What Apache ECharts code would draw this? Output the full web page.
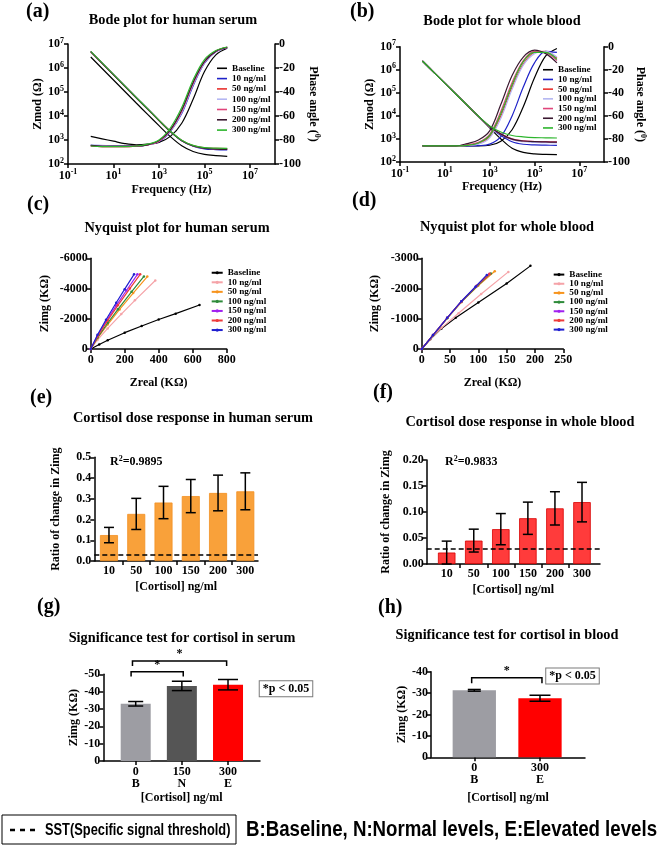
<!DOCTYPE html>
<html><head><meta charset="utf-8">
<script src="https://cdn.jsdelivr.net/npm/echarts@6/dist/echarts.min.js"></script>
<style>html,body{margin:0;padding:0;background:#fff}#c{width:660px;height:846px}</style>
</head><body><div id="c"></div>
<script>
// ---------------- DATA ----------------
const concNames = ['Baseline','10 ng/ml','50 ng/ml','100 ng/ml','150 ng/ml','200 ng/ml','300 ng/ml'];
const freqHz = [1,3.162,10,31.62,100,316.2,1000,3162,10000,31623,100000,316228,1000000];
// Bode (a) human serum: |Z| in ohm, phase in degrees
const serumZmod = [
  [2880000,955000,316000,105000,34700,11700,3980,1380,575,331,251,224,209],
  [4900000,1620000,537000,178000,58900,20000,6610,2250,930,550,430,400,390],
  [4800000,1590000,530000,176000,58000,19700,6550,2290,960,590,470,445,440],
  [4850000,1600000,535000,177000,58500,19900,6600,2280,950,575,455,428,420],
  [4750000,1570000,525000,174000,57500,19600,6500,2260,945,570,452,425,415],
  [4700000,1560000,520000,172000,57000,19400,6450,2250,940,565,448,420,410],
  [4950000,1640000,540000,179000,59500,20200,6700,2320,975,595,480,455,450]
];
const serumPhase = [
  [-77,-79,-81,-83,-84,-83.5,-82,-77,-66,-46,-23,-9,-3.5],
  [-84.5,-85,-85,-85,-85,-84,-81.5,-73,-58,-35,-16,-6.5,-3],
  [-85,-85.5,-85.5,-85.5,-85,-84,-81,-72,-56,-33,-15,-6,-2.8],
  [-84,-84.5,-85,-85,-85,-84,-81,-72.5,-57,-34,-15.5,-6,-2.8],
  [-85,-85.5,-85.5,-85.5,-85,-84,-81,-72,-56,-33,-15,-6,-2.8],
  [-84.5,-85,-85,-85,-85,-84,-80.5,-71.5,-55,-32,-14.5,-6,-2.7],
  [-85,-85.5,-85.5,-85.5,-85,-83.5,-80,-70,-53,-30,-13,-5.5,-2.5]
];
// Bode (b) whole blood
const bloodZmod = [
  [2400000,794000,263000,87100,28800,9550,3020,1000,398,263,224,214,209],
  [2400000,794000,263000,87100,28800,9550,3310,1410,759,589,550,537,525],
  [2400000,794000,263000,87100,28800,9550,3390,1585,955,794,741,724,708],
  [2400000,794000,263000,87100,28800,9550,3390,1585,933,759,708,692,676],
  [2400000,794000,263000,87100,28800,9600,3470,1660,1000,832,776,759,741],
  [2400000,794000,263000,87100,28800,9600,3470,1620,977,813,759,741,724],
  [2400000,794000,263000,87100,28800,9700,3630,1995,1413,1230,1148,1122,1096]
];
const bloodPhase = [
  [-86,-86,-86,-86,-86,-86,-85.5,-82,-72,-52,-27,-8,-1.5],
  [-86,-86,-86,-86,-86,-85.8,-84.5,-78,-60,-35,-14,-4,-5],
  [-86,-86,-86,-86,-85.5,-84,-78,-60,-35,-15,-5,-4,-10],
  [-86,-86,-86,-86,-85.5,-84.5,-79,-62,-37,-16,-6,-4,-9],
  [-86,-86,-86,-86,-85,-83,-76,-56,-31,-12,-4,-5,-12],
  [-86,-86,-86,-86,-84,-81,-73,-50,-25,-9,-3,-6,-14],
  [-86,-86,-86,-86,-85.5,-83.5,-77,-58,-33,-13,-5,-5,-11]
];
// Nyquist [Zreal, Zimg] in kilo-ohm
const serumNyq = [
  [[0,0],[50,-300],[100,-580],[200,-1080],[300,-1520],[400,-1950],[500,-2340],[640,-2910]],
  [[0,0],[40,-600],[100,-1360],[180,-2310],[260,-3220],[380,-4530]],
  [[0,0],[40,-710],[100,-1620],[170,-2620],[250,-3700],[333,-4790]],
  [[0,0],[40,-755],[100,-1720],[160,-2625],[240,-3780],[313,-4800]],
  [[0,0],[40,-870],[90,-1810],[150,-2870],[210,-3870],[275,-4940]],
  [[0,0],[40,-830],[100,-1890],[160,-2890],[230,-4000],[291,-4940]],
  [[0,0],[40,-935],[90,-1935],[150,-3060],[200,-3960],[255,-4940]]
];
const bloodNyq = [
  [[0,0],[15,-320],[35,-680],[60,-1030],[100,-1540],[150,-2170],[192,-2750]],
  [[0,0],[15,-320],[35,-700],[65,-1180],[105,-1820],[153,-2550]],
  [[0,0],[20,-455],[45,-1015],[70,-1550],[100,-2100],[129,-2570]],
  [[0,0],[20,-455],[45,-1020],[70,-1560],[98,-2080],[122,-2500]],
  [[0,0],[20,-460],[45,-1030],[70,-1570],[96,-2070],[119,-2480]],
  [[0,0],[20,-460],[45,-1030],[70,-1575],[97,-2090],[120,-2490]],
  [[0,0],[20,-460],[45,-1030],[70,-1580],[95,-2060],[115,-2450]]
];
// Dose response
const doseCats = ['10','50','100','150','200','300'];
const serumRatio = [0.125,0.227,0.282,0.313,0.328,0.336];
const serumRatioErr = [0.037,0.075,0.078,0.080,0.086,0.089];
const serumSST = 0.028;
const serumR2 = '0.9895';
const bloodRatio = [0.022,0.045,0.067,0.088,0.107,0.119];
const bloodRatioErr = [0.022,0.022,0.030,0.031,0.032,0.038];
const bloodSST = 0.027;
const bloodR2 = '0.9833';
// Significance tests
const sigSerumCats = ['0','150','300'];
const sigSerumGroups = ['B','N','E'];
const sigSerumZimg = [-33,-43.3,-44];
const sigSerumErr = [1.3,2.7,3.0];
const sigSerumBrackets = [[-0.10,1.03,-51.5,-48.7],[-0.07,1.97,-57.7,-54.8]];
const sigBloodCats = ['0','300'];
const sigBloodGroups = ['B','E'];
const sigBloodZimg = [-31.3,-27.6];
const sigBloodErr = [0.4,1.4];
const sigBloodBrackets = [[-0.04,1.03,-37.2,-34.6]];
// axis ticks
const bodeXTicks = [-1,1,3,5,7];

// ---------------- STYLE ----------------
const FONT = '"Liberation Serif","Times New Roman",serif';
const SANS = '"Liberation Sans",Arial,sans-serif';
const bodeColors = ['#000000','#1E22C8','#E8322E','#B4B6F2','#E0457B','#3A1830','#2DB52D'];
const nyqColors = ['#000000','#F5A3A8','#F7941D','#2E8B3A','#A020F0','#EE3B3B','#1F1FD0'];
const sigSerumColors = ['#9D9DA3','#555555','#FF0000'];
const sigBloodColors = ['#9D9DA3','#FF0000'];
const BLK = '#000';
const lblBase = {color:BLK,fontFamily:FONT,fontWeight:'bold',fontSize:12};
const nameStyle = {color:BLK,fontFamily:FONT,fontWeight:'bold',fontSize:12};
const powRich = {b:{...lblBase}, s:{...lblBase,fontSize:8,padding:[0,0,7,0]}};
function axLine(){return {show:true,onZero:false,lineStyle:{color:BLK,width:1.5}};}
function axTick(cv){const t={show:true,length:4,lineStyle:{color:BLK,width:1.5}}; if(cv) t.customValues=cv; return t;}

const grids=[], xAxes=[], yAxes=[], series=[], legends=[], graphics=[];
function addGrid(g){grids.push(Object.assign({outerBoundsMode:'none',containLabel:false},g)); return grids.length-1;}

// ---------------- BODE ----------------
function addBode(tag, g, zmod, phase, yNameGap, rNameGap, xNameGap, lg){
  const gi = addGrid(g);
  const xi = xAxes.length;
  xAxes.push({gridIndex:gi,type:'value',min:-1,max:8.1,axisLine:axLine(),axisTick:axTick(bodeXTicks),
    axisLabel:{customValues:bodeXTicks,margin:4,formatter:v=>'{b|10}{s|'+v+'}',rich:powRich},
    splitLine:{show:false},name:'Frequency (Hz)',nameLocation:'middle',nameGap:xNameGap,nameTextStyle:nameStyle});
  const yl = yAxes.length;
  yAxes.push({gridIndex:gi,type:'value',position:'left',min:2,max:7,interval:1,axisLine:axLine(),axisTick:axTick(),
    axisLabel:{margin:4,formatter:v=>'{b|10}{s|'+v+'}',rich:powRich},splitLine:{show:false},
    name:'Zmod (Ω)',nameLocation:'middle',nameGap:yNameGap,nameTextStyle:nameStyle});
  const yr = yAxes.length;
  yAxes.push({gridIndex:gi,type:'value',position:'right',min:-100,max:0,interval:20,axisLine:axLine(),axisTick:axTick(),
    axisLabel:{...lblBase,margin:4},splitLine:{show:false},
    name:'{n|Phase angle (}{s|0}{n|)}',nameLocation:'middle',nameRotate:-90,nameGap:rNameGap,
    nameTextStyle:{...nameStyle,rich:{n:{...nameStyle},s:{...nameStyle,fontSize:8,padding:[0,0,7,0]}}}});
  for(let i=0;i<concNames.length;i++){
    const nm = concNames[i]+'#'+tag;
    const base = {name:nm,type:'line',xAxisIndex:xi,smooth:0.35,symbol:'none',
      lineStyle:{width:1.2,color:bodeColors[i]},itemStyle:{color:bodeColors[i]},z:2+i};
    series.push(Object.assign({},base,{yAxisIndex:yl,data:freqHz.map((f,j)=>[Math.log10(f),Math.log10(zmod[i][j])])}));
    series.push(Object.assign({},base,{yAxisIndex:yr,data:freqHz.map((f,j)=>[Math.log10(f),phase[i][j]])}));
  }
  legends.push({data:concNames.map(c=>c+'#'+tag),orient:'vertical',left:lg.left,top:lg.top,itemWidth:10,itemHeight:1.6,
    icon:'rect',itemGap:lg.gap,selectedMode:false,padding:0,formatter:n=>n.split('#')[0],
    textStyle:{color:BLK,fontFamily:FONT,fontWeight:'bold',fontSize:9.2,lineHeight:lg.lh}});
}
addBode('a',{left:68,top:44,width:207,height:120},serumZmod,serumPhase,22,31,20,{left:217,top:63.3,gap:0.3,lh:10});
addBode('b',{left:400,top:46.7,width:204,height:115.3},bloodZmod,bloodPhase,18,27.5,18.5,{left:543,top:65,gap:0.2,lh:9.5});

// ---------------- NYQUIST ----------------
function addNyq(tag, g, data, xmax, xint, ymin, yint, lg){
  const gi = addGrid(g);
  const xi = xAxes.length;
  xAxes.push({gridIndex:gi,type:'value',min:0,max:xmax,interval:xint,axisLine:axLine(),axisTick:axTick(),
    axisLabel:{...lblBase,margin:5,formatter:v=>String(v)},splitLine:{show:false},name:'Zreal (KΩ)',nameLocation:'middle',nameGap:28,nameTextStyle:nameStyle});
  const yi = yAxes.length;
  yAxes.push({gridIndex:gi,type:'value',min:ymin,max:0,interval:yint,inverse:true,axisLine:axLine(),axisTick:axTick(),
    axisLabel:{...lblBase,margin:3,formatter:v=>String(v)},splitLine:{show:false},name:'Zimg (KΩ)',nameLocation:'middle',nameGap:lg.yGap,nameTextStyle:nameStyle});
  for(let i=0;i<concNames.length;i++){
    series.push({name:concNames[i]+'#'+tag,type:'line',xAxisIndex:xi,yAxisIndex:yi,data:data[i],
      symbol:'circle',symbolSize:2.5,showSymbol:true,lineStyle:{width:1.2,color:nyqColors[i]},itemStyle:{color:nyqColors[i]},z:2+i});
  }
  legends.push({data:concNames.map(c=>c+'#'+tag),orient:'vertical',left:lg.left,top:lg.top,itemWidth:lg.iw,itemHeight:4,
    itemGap:lg.gap,selectedMode:false,padding:0,formatter:n=>n.split('#')[0],
    textStyle:{color:BLK,fontFamily:FONT,fontWeight:'bold',fontSize:9.2,lineHeight:lg.lh}});
}
addNyq('c',{left:90.7,top:258.3,width:136,height:90.7},serumNyq,800,200,-6000,2000,{left:210.7,top:268,iw:11,gap:0.05,lh:9.5,yGap:40});
addNyq('d',{left:421.7,top:258.3,width:141.6,height:90.7},bloodNyq,250,50,-3000,1000,{left:552.7,top:270,iw:10.6,gap:0,lh:9.17,yGap:41});

// ---------------- BAR PANELS ----------------
function errorSeries(xi, yi, means, errs, caps){
  return {type:'custom',xAxisIndex:xi,yAxisIndex:yi,z:10,silent:true,
    data:means.map((m,i)=>[i,m,errs[i],caps[i]]),
    renderItem:(p,api)=>{
      const x=api.value(0), m=api.value(1), e=api.value(2), c=api.value(3);
      const t=api.coord([x,m+e]), b=api.coord([x,m-e]);
      const st={stroke:BLK,lineWidth:1.5};
      return {type:'group',children:[
        {type:'line',shape:{x1:t[0],y1:t[1],x2:b[0],y2:b[1]},style:st},
        {type:'line',shape:{x1:t[0]-c,y1:t[1],x2:t[0]+c,y2:t[1]},style:st},
        {type:'line',shape:{x1:b[0]-c,y1:b[1],x2:b[0]+c,y2:b[1]},style:st}]};
    }};
}
function bracketSeries(xi, yi, brackets){
  return {type:'custom',xAxisIndex:xi,yAxisIndex:yi,z:10,silent:true,clip:false,data:brackets,
    renderItem:(p,api)=>{
      const a=api.coord([api.value(0),api.value(3)]), b=api.coord([api.value(0),api.value(2)]);
      const c=api.coord([api.value(1),api.value(2)]), d=api.coord([api.value(1),api.value(3)]);
      return {type:'group',children:[
        {type:'polyline',shape:{points:[a,b,c,d]},style:{stroke:BLK,lineWidth:1.5,fill:null}},
        {type:'text',x:(b[0]+c[0])/2,y:b[1]-1,style:{text:'*',fill:BLK,font:'bold 12px '+FONT,align:'center',verticalAlign:'bottom',textAlign:'center',textVerticalAlign:'bottom'}}]};
    }};
}
function addBars(cfg){
  const gi = addGrid(cfg.grid);
  const xi = xAxes.length;
  const idx = cfg.vals.map((v,i)=>i);
  xAxes.push({gridIndex:gi,type:'value',min:cfg.xmin,max:cfg.xmax,axisLine:axLine(),axisTick:axTick(cfg.ticks),
    axisLabel:{...lblBase,customValues:idx,margin:cfg.lmargin,lineHeight:12,
      formatter:v=>{const k=Math.round(v); return cfg.groups? cfg.cats[k]+'\n'+cfg.groups[k] : cfg.cats[k];}},
    splitLine:{show:false},name:'[Cortisol] ng/ml',nameLocation:'middle',nameGap:cfg.xNameGap,nameTextStyle:nameStyle});
  const yi = yAxes.length;
  yAxes.push({gridIndex:gi,type:'value',min:cfg.ymin,max:cfg.ymax,interval:cfg.yint,inverse:!!cfg.inverse,
    axisLine:axLine(),axisTick:axTick(),axisLabel:{...lblBase,margin:3,formatter:cfg.yfmt},splitLine:{show:false},
    name:cfg.yName,nameLocation:'middle',nameGap:cfg.yNameGap,nameTextStyle:nameStyle});
  const bar = {type:'bar',xAxisIndex:xi,yAxisIndex:yi,barWidth:cfg.barWidth,z:3,silent:true,
    data:cfg.vals.map((v,i)=>({value:[i,v],itemStyle:{color:cfg.colors[i%cfg.colors.length],borderColor:cfg.border?cfg.border:cfg.colors[i%cfg.colors.length],borderWidth:cfg.border?0.8:0}}))};
  if(cfg.sst!==undefined){
    bar.markLine = {symbol:'none',silent:true,label:{show:false},animation:false,
      lineStyle:{color:BLK,width:1.5,type:[5,3]},data:[{yAxis:cfg.sst}]};
  }
  series.push(bar);
  series.push(errorSeries(xi,yi,cfg.vals,cfg.errs,cfg.caps));
  if(cfg.brackets) series.push(bracketSeries(xi,yi,cfg.brackets));
}
addBars({grid:{left:94.3,top:457.3,width:163.7,height:103.7},cats:doseCats,vals:serumRatio,errs:serumRatioErr,
  caps:[5,5,5,5,5,5],colors:['#F9A13A'],border:'#F29022',barWidth:18,xmin:-0.538,xmax:5.465,ticks:[0.5,1.5,2.5,3.5,4.5],
  lmargin:4,xNameGap:19.5,ymin:0,ymax:0.5,yint:0.1,yfmt:v=>v.toFixed(1),yName:'Ratio of change in Zimg',yNameGap:32,sst:serumSST});
addBars({grid:{left:426.7,top:460,width:173.3,height:104},cats:doseCats,vals:bloodRatio,errs:bloodRatioErr,
  caps:[5,5,5,5,5,5],colors:['#FF3B3B'],border:'#D80000',barWidth:17.5,xmin:-0.739,xmax:5.665,ticks:[0.5,1.5,2.5,3.5,4.5],
  lmargin:4,xNameGap:20,ymin:0,ymax:0.2,yint:0.05,yfmt:v=>v.toFixed(2),yName:'Ratio of change in Zimg',yNameGap:35,sst:bloodSST});
addBars({grid:{left:103.3,top:674.3,width:156.7,height:86.7},cats:sigSerumCats,groups:sigSerumGroups,vals:sigSerumZimg,errs:sigSerumErr,
  caps:[7.5,10,10],colors:sigSerumColors,barWidth:30,xmin:-0.702,xmax:2.693,ticks:[0,1,2],
  lmargin:5,xNameGap:31,ymin:-50,ymax:0,yint:10,inverse:true,yfmt:v=>String(v),yName:'Zimg (KΩ)',yNameGap:20,brackets:sigSerumBrackets});
addBars({grid:{left:431,top:671.7,width:154,height:85.6},cats:sigBloodCats,groups:sigBloodGroups,vals:sigBloodZimg,errs:sigBloodErr,
  caps:[6.5,10.5],colors:sigBloodColors,barWidth:43.3,xmin:-0.659,xmax:1.685,ticks:[0,1],
  lmargin:5,xNameGap:35,ymin:-40,ymax:0,yint:10,inverse:true,yfmt:v=>String(v),yName:'Zimg (KΩ)',yNameGap:23.5,brackets:sigBloodBrackets});

// ---------------- FREE TEXT ----------------
function txt(text,x,y,size,align,extra,font,scaleX){
  graphics.push({type:'text',x:x,y:y,silent:true,z:100,scaleX:scaleX||1,style:Object.assign({text:text,fill:BLK,font:'bold '+size+'px '+(font||FONT),
    align:align||'center',textAlign:align||'center',verticalAlign:'middle',textVerticalAlign:'middle'},extra||{})});
}
[['(a)',26,12],['(b)',350,12],['(c)',27,205],['(d)',352,201],['(e)',30,398],['(f)',373,393],['(g)',37,607],['(h)',378,608]]
  .forEach(a=>txt(a[0],a[1],a[2],20,'left'));
[['Bode plot for human serum',173,20],['Bode plot for whole blood',502,21.7],
 ['Nyquist plot for human serum',177,228.3],['Nyquist plot for whole blood',507,227.3],
 ['Cortisol dose response in human serum',193,418],['Cortisol dose response in whole blood',520,422],
 ['Significance test for cortisol in serum',182,638.3],['Significance test for cortisol in blood',507,635.7]]
  .forEach(a=>txt(a[0],a[1],a[2],14.3,'center'));
const r2Rich = {b:{fill:BLK,font:'bold 12px '+FONT},s:{fill:BLK,font:'bold 8px '+FONT,padding:[0,0,7,0]}};
txt('{b|R}{s|2}{b|='+serumR2+'}',110,462,12,'left',{rich:r2Rich});
txt('{b|R}{s|2}{b|='+bloodR2+'}',445,462,12,'left',{rich:r2Rich});
txt('*p < 0.05',286,688.7,12,'center',{backgroundColor:'#fff',borderColor:'#7a7a7a',borderWidth:1,padding:[2,3,1,3]});
txt('*p < 0.05',572.5,676,12,'center',{backgroundColor:'#fff',borderColor:'#7a7a7a',borderWidth:1,padding:[2,3,1,3]});
// bottom key
graphics.push({type:'rect',silent:true,shape:{x:2,y:815,width:234,height:29},style:{fill:'#fff',stroke:BLK,lineWidth:1}});
graphics.push({type:'line',silent:true,shape:{x1:10,y1:830,x2:37,y2:830},style:{stroke:BLK,lineWidth:2.5,lineDash:[5,5]}});
txt('SST(Specific signal threshold)',45,830,17,'left',null,SANS,0.755);
txt('B:Baseline, N:Normal levels, E:Elevated levels',246,830,22.5,'left',null,SANS,0.83);

const chart = echarts.init(document.getElementById('c'),null,{renderer:'canvas',width:660,height:846});
chart.setOption({animation:false,backgroundColor:'#fff',grid:grids,xAxis:xAxes,yAxis:yAxes,series:series,legend:legends,graphic:{elements:graphics}});
</script></body></html>
